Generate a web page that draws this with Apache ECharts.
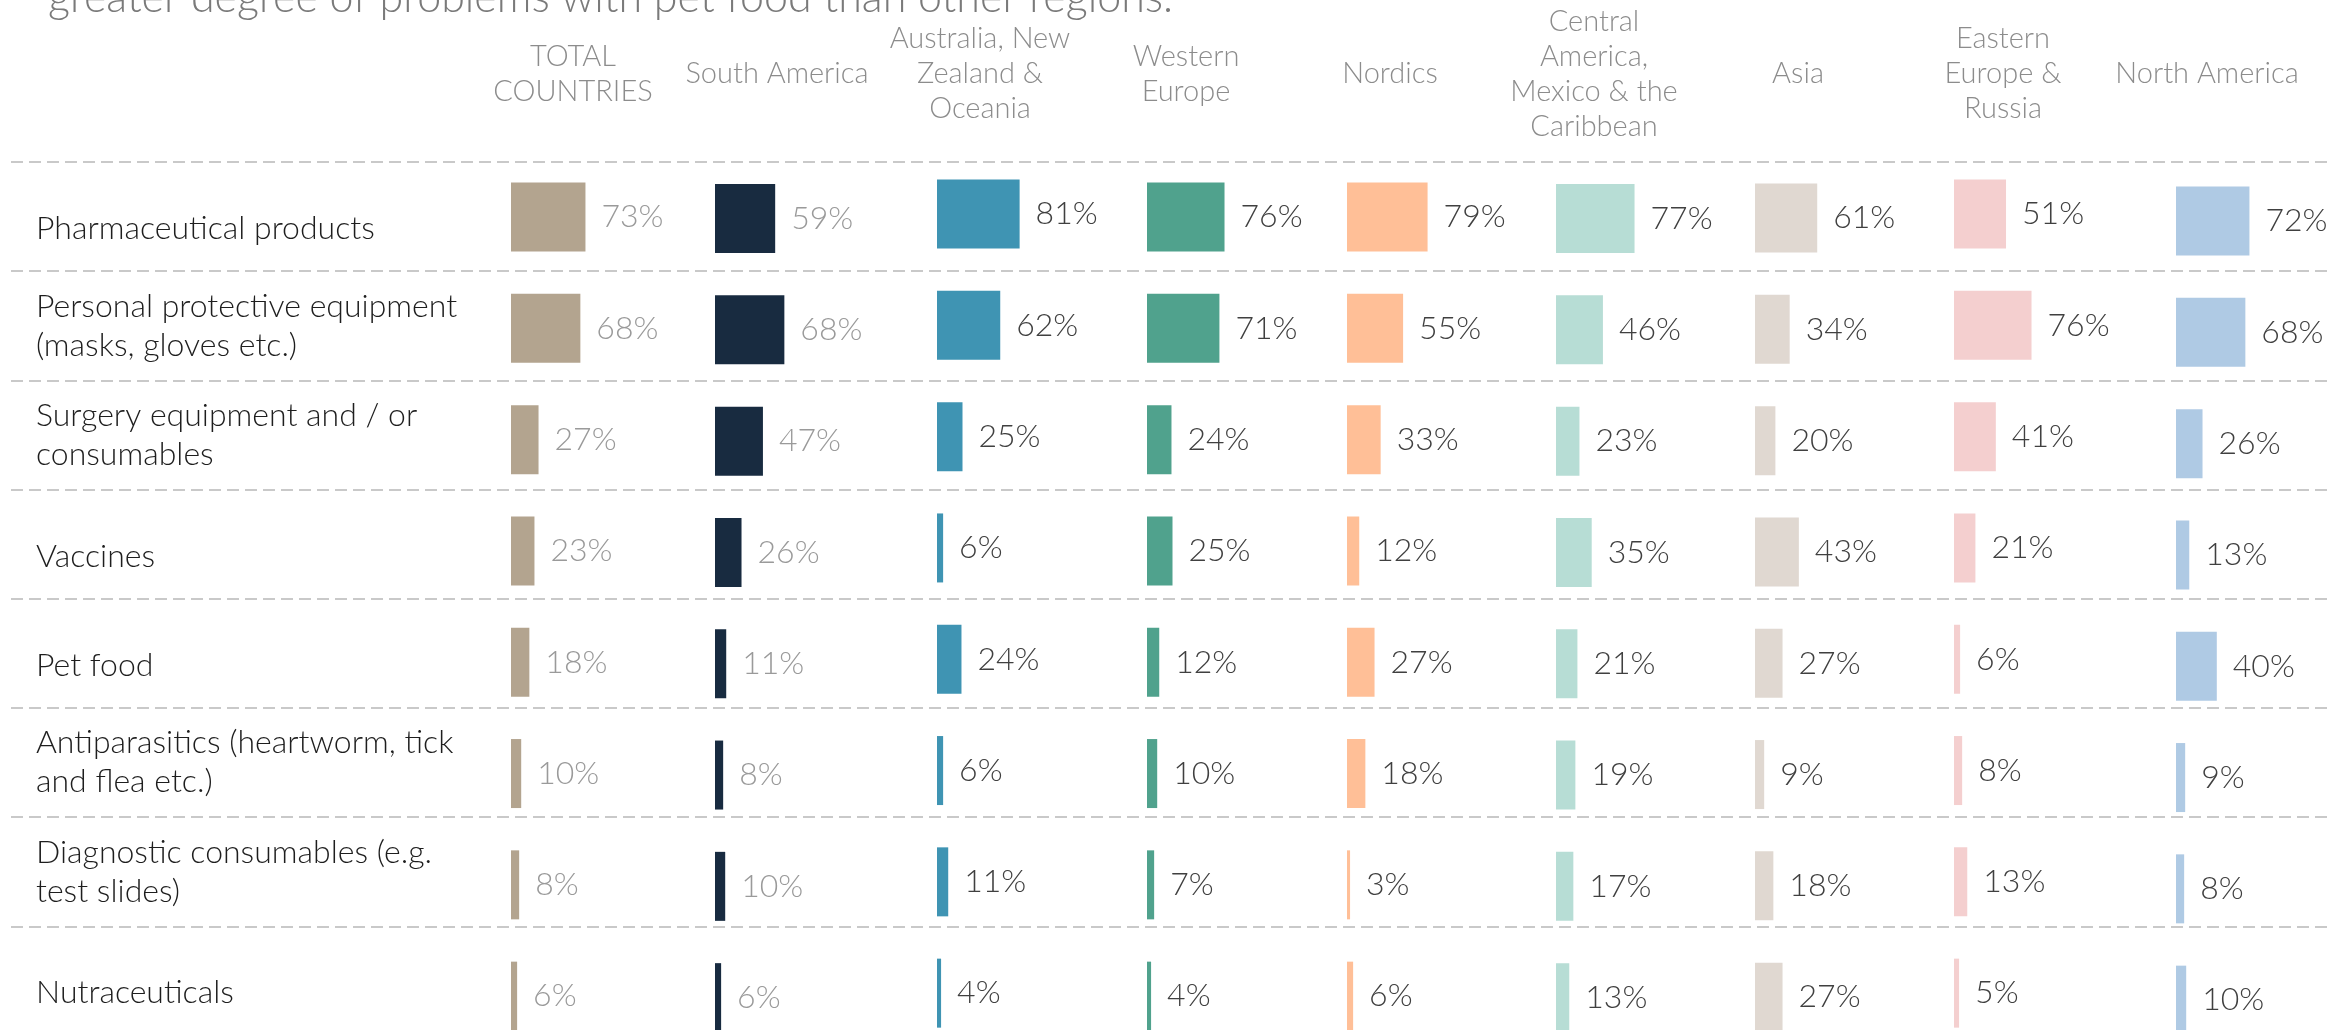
<!DOCTYPE html>
<html><head><meta charset="utf-8">
<script src="https://cdn.jsdelivr.net/npm/echarts@6/dist/echarts.min.js"></script>
<style>html,body{margin:0;padding:0;background:#fff;overflow:hidden}#c{width:2351px;height:1030px}</style>
</head><body><div id="c"></div>
<script>
// ---------- data ----------
const titleText = 'greater degree of problems with pet food than other regions.';
const rowLabels = [
  'Pharmaceutical products',
  'Personal protective equipment\n(masks, gloves etc.)',
  'Surgery equipment and / or\nconsumables',
  'Vaccines',
  'Pet food',
  'Antiparasitics (heartworm, tick\nand flea etc.)',
  'Diagnostic consumables (e.g.\ntest slides)',
  'Nutraceuticals'
];
const regions = [
  'TOTAL\nCOUNTRIES', 'South America', 'Australia, New\nZealand &\nOceania', 'Western\nEurope',
  'Nordics', 'Central\nAmerica,\nMexico & the\nCaribbean', 'Asia', 'Eastern\nEurope &\nRussia', 'North America'
];
const totalCountries = [73, 68, 27, 23, 18, 10, 8, 6];
const southAmerica   = [59, 68, 47, 26, 11, 8, 10, 6];
const australiaNZ    = [81, 62, 25, 6, 24, 6, 11, 4];
const westernEurope  = [76, 71, 24, 25, 12, 10, 7, 4];
const nordics        = [79, 55, 33, 12, 27, 18, 3, 6];
const centralAmerica = [77, 46, 23, 35, 21, 19, 17, 13];
const asia           = [61, 34, 20, 43, 27, 9, 18, 27];
const easternEurope  = [51, 76, 41, 21, 6, 8, 13, 5];
const northAmerica   = [72, 68, 26, 13, 40, 9, 8, 10];
const seriesValues = [totalCountries, southAmerica, australiaNZ, westernEurope, nordics,
  centralAmerica, asia, easternEurope, northAmerica];

// ---------- styles / layout ----------
const colors = ['#b3a48f', '#182b40', '#3f94b3', '#50a28d', '#ffbf97', '#b7ddd5', '#e0d8d1', '#f4cfcf', '#afcae4'];
const labelColors = ['#9a9a9a', '#9a9a9a', '#404040', '#404040', '#404040', '#404040', '#404040', '#404040', '#404040'];
const barStartX = [511, 715, 937, 1147, 1347, 1556, 1755, 1954, 2176];
const headerCenterX = [573, 777, 980, 1186, 1390, 1594, 1798, 2003, 2207];
const colShiftY = [0, 1.5, -3, 0, 0, 1.5, 1, -3, 4];
const PX_PER_PCT = 1.02;
const FONT = 'Lato';

const grids = [], xAxes = [], yAxes = [], series = [], titles = [];

titles.push({
  text: titleText, left: 48, top: -23.5, padding: 0,
  textStyle: { fontFamily: FONT, fontWeight: 300, fontSize: 43, lineHeight: 43, color: '#7a7a7a' }
});

regions.forEach((name, i) => {
  titles.push({
    text: name, left: headerCenterX[i], top: 74, padding: 0,
    textAlign: 'center', textVerticalAlign: 'middle',
    textStyle: { fontFamily: FONT, fontWeight: 300, fontSize: 29, lineHeight: 35, color: '#8c8c8c' }
  });
  grids.push({ left: barStartX[i], width: 100 * PX_PER_PCT, top: 161.4 + colShiftY[i], height: 890.4,
    outerBoundsMode: 'none', containLabel: false });
  xAxes.push({ gridIndex: i, type: 'value', min: 0, max: 100, show: false });
  yAxes.push({ gridIndex: i, type: 'category', data: rowLabels, inverse: true, show: false });
  series.push({
    type: 'bar', xAxisIndex: i, yAxisIndex: i, data: seriesValues[i], barWidth: 69,
    itemStyle: { color: colors[i] },
    label: {
      show: true, position: 'right', distance: 16, formatter: '{c}%',
      fontFamily: FONT, fontWeight: 300, fontSize: 32, color: labelColors[i]
    }
  });
});

// row label / separator grid
const gi = regions.length;
grids.push({ left: 11, width: 2318, top: 162, height: 8 * 109.2, outerBoundsMode: 'none', containLabel: false });
xAxes.push({ gridIndex: gi, type: 'value', show: false });
yAxes.push({
  gridIndex: gi, type: 'category', data: rowLabels, inverse: true,
  axisLine: { show: false }, axisTick: { show: false },
  splitLine: { show: true, interval: 0, lineStyle: { color: '#c9c9c9', width: 2, type: [12, 6] } },
  axisLabel: {
    inside: true, margin: 25, interval: 0, align: 'left',
    formatter: v => v.indexOf('\n') >= 0 ? '{d|' + v + '}' : '{s|' + v + '}',
    rich: {
      s: { fontFamily: FONT, fontWeight: 300, fontSize: 32, lineHeight: 39, color: '#1e1e1e', padding: [24, 0, 0, 0] },
      d: { fontFamily: FONT, fontWeight: 300, fontSize: 32, lineHeight: 39, color: '#1e1e1e' }
    }
  }
});

const chart = echarts.init(document.getElementById('c'), null, { renderer: 'canvas' });
chart.setOption({
  animation: false,
  backgroundColor: '#ffffff',
  title: titles,
  grid: grids, xAxis: xAxes, yAxis: yAxes, series: series
});
</script></body></html>
